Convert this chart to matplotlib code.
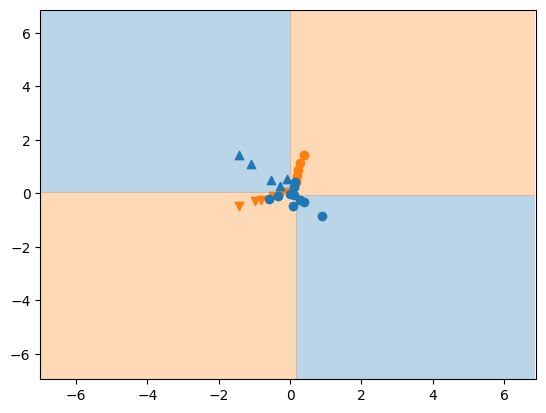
import numpy as np
import matplotlib
matplotlib.use("Agg")
import matplotlib.pyplot as plt

# points
blue_tri_x = [-1.42, -1.09, -0.53, -0.09, -0.28]
blue_tri_y = [1.45, 1.10, 0.51, 0.55, 0.26]

orange_tri_x = [-1.44, -0.99, -0.81, -0.49, -0.24, -0.06]
orange_tri_y = [-0.48, -0.30, -0.23, -0.08, -0.01, 0.06]

orange_dot_x = [0.40, 0.28, 0.22, 0.19, 0.16, 0.12]
orange_dot_y = [1.43, 1.14, 0.86, 0.66, 0.44, 0.24]

blue_dot_x = [-0.58, -0.34, 0.00, 0.12, 0.14, 0.10, 0.28, 0.38, 0.07, 0.91]
blue_dot_y = [-0.20, -0.11, -0.01, -0.07, 0.43, 0.24, -0.23, -0.32, -0.48, -0.83]

# split points of the decision regions
x_split_top, x_split_bottom = 0.0, 0.15
y_split_left, y_split_right = 0.03, -0.08

xx, yy = np.meshgrid(np.arange(-7.0, 6.9, 0.05), np.arange(-6.95, 6.87, 0.05))
bx = np.where(yy > 0, x_split_top, x_split_bottom)
by = np.where(xx < 0, y_split_left, y_split_right)
Z = ((xx - bx) * (yy - by) > 0).astype(int)

plt.figure(figsize=(6.4, 4.8))
plt.contourf(xx, yy, Z, levels=[-0.5, 0.5, 1.5],
             colors=["tab:blue", "tab:orange"], alpha=0.3)

plt.scatter(orange_tri_x, orange_tri_y, c="tab:orange", marker="v")
plt.scatter(orange_dot_x, orange_dot_y, c="tab:orange", marker="o")
plt.scatter(blue_tri_x, blue_tri_y, c="tab:blue", marker="^")
plt.scatter(blue_dot_x, blue_dot_y, c="tab:blue", marker="o")

plt.xlim(-7.0, 6.9)
plt.ylim(-6.95, 6.87)

plt.savefig("out.png", bbox_inches="tight")
